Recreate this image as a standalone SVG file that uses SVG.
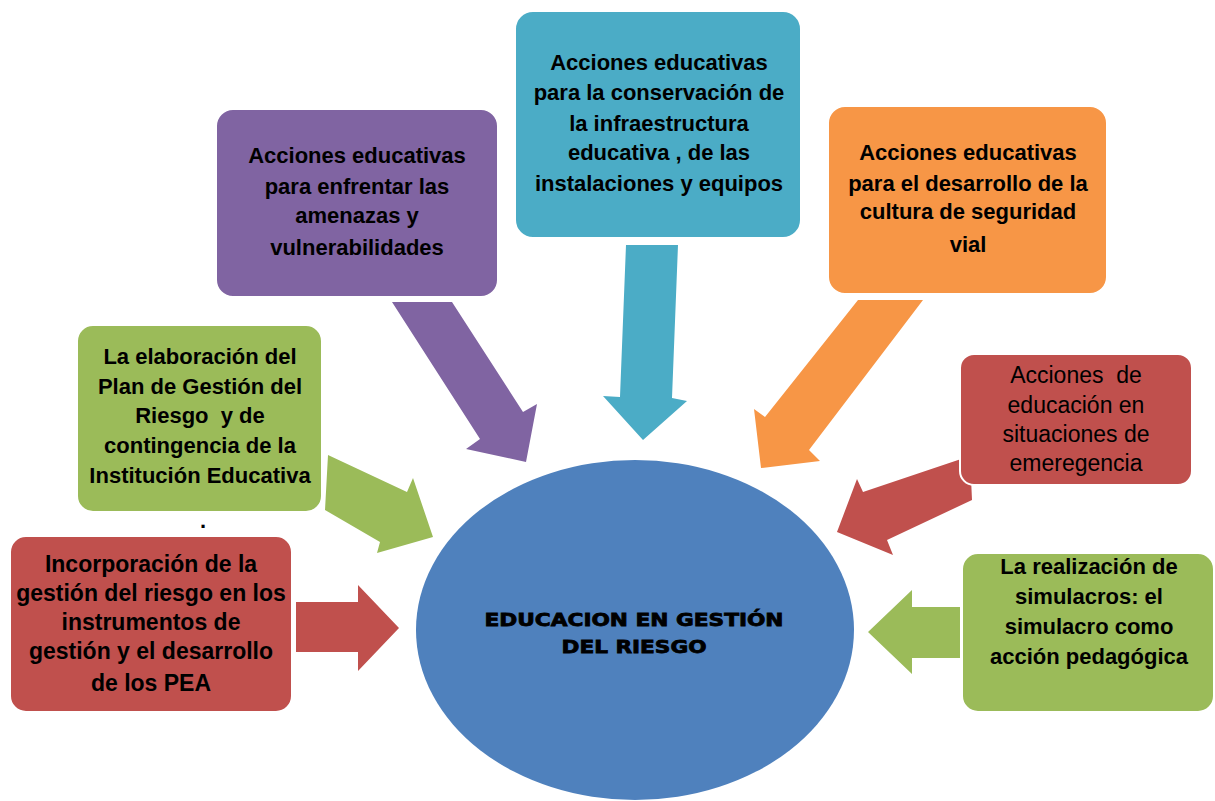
<svg xmlns="http://www.w3.org/2000/svg" width="1215" height="801" viewBox="0 0 1215 801">
<style>
.box{stroke:#ffffff;stroke-width:2}
.t{font-family:"Liberation Sans",Arial,sans-serif;font-weight:bold;font-size:22px;fill:#000;text-anchor:middle}
.t23{font-size:23px}
.r{font-weight:normal}
.c{font-family:"DejaVu Sans","Liberation Sans",sans-serif;font-weight:bold;font-size:18px;fill:#000;stroke:#000;stroke-width:0.8;text-anchor:middle}
.purple{fill:#8064A2}.cyan{fill:#4BACC6}.orange{fill:#F79646}.red{fill:#C0504D}.green{fill:#9BBB59}.blue{fill:#4F81BD}
</style>
<rect width="1215" height="801" fill="#ffffff"/>
<g id="connectors">
<polygon class="purple" points="392,302 452,302 523,412 537,404 526,462 466,449 480,439"/>
<polygon class="cyan" points="626,245 678,245 672,398 687,401 643,440 603,396 620,397"/>
<polygon class="orange" points="858,300 923,300 809,450 820,461 761,468 754,409 765,417"/>
<polygon class="red" points="970,456 972,500 887,540 893,555 837,532 857,479 863,492"/>
<polygon class="green" points="328,455 407,492 413,478 433,537 377,553 380,542 325,510"/>
<polygon class="red" points="296,602 358,602 358,585 399,628 358,671 358,652 296,652"/>
<polygon class="green" points="960,607 912,607 912,590 868,632 912,674 912,658 960,658"/>
</g>
<g id="center">
<ellipse class="blue" cx="635" cy="630" rx="219" ry="170"/>
<text class="c" x="634" y="626" textLength="299" lengthAdjust="spacingAndGlyphs">EDUCACION EN GESTIÓN</text>
<text class="c" x="634" y="653" textLength="145" lengthAdjust="spacingAndGlyphs">DEL RIESGO</text>
</g>
<g id="amenazas">
<rect class="box purple" x="216" y="109" width="282" height="188" rx="17"/>
<text class="t" x="357" y="163">Acciones educativas</text>
<text class="t" x="357" y="194">para enfrentar las</text>
<text class="t" x="357" y="223">amenazas y</text>
<text class="t" x="357" y="255">vulnerabilidades</text>
</g>
<g id="infraestructura">
<rect class="box cyan" x="515" y="11" width="286" height="227" rx="18"/>
<text class="t" x="659" y="70">Acciones educativas</text>
<text class="t" x="659" y="100">para la conservación de</text>
<text class="t" x="659" y="131">la infraestructura</text>
<text class="t" x="659" y="160">educativa , de las</text>
<text class="t" x="659" y="191">instalaciones y equipos</text>
</g>
<g id="seguridad-vial">
<rect class="box orange" x="828" y="106" width="279" height="188" rx="17"/>
<text class="t" x="968" y="160">Acciones educativas</text>
<text class="t" x="968" y="191">para el desarrollo de la</text>
<text class="t" x="968" y="219">cultura de seguridad</text>
<text class="t" x="968" y="252">vial</text>
</g>
<g id="emergencia">
<rect class="box red" x="960" y="354" width="232" height="131" rx="14"/>
<text class="t t23 r" x="1076" y="383" xml:space="preserve">Acciones  de</text>
<text class="t t23 r" x="1076" y="413">educación en</text>
<text class="t t23 r" x="1076" y="442">situaciones de</text>
<text class="t t23 r" x="1076" y="471">emeregencia</text>
</g>
<g id="plan-gestion">
<rect class="box green" x="77" y="325" width="245" height="187" rx="16"/>
<text class="t" x="200" y="364">La elaboración del</text>
<text class="t" x="200" y="394">Plan de Gestión del</text>
<text class="t" x="200" y="423" xml:space="preserve">Riesgo  y de</text>
<text class="t" x="200" y="453">contingencia de la</text>
<text class="t" x="200" y="483">Institución Educativa</text>
<text class="t" x="203" y="528">.</text>
</g>
<g id="incorporacion">
<rect class="box red" x="10" y="536" width="282" height="176" rx="16"/>
<text class="t t23" x="151" y="572">Incorporación de la</text>
<text class="t t23" x="151" y="601">gestión del riesgo en los</text>
<text class="t t23" x="151" y="630">instrumentos de</text>
<text class="t t23" x="151" y="659">gestión y el desarrollo</text>
<text class="t t23" x="151" y="691">de los PEA</text>
</g>
<g id="simulacros">
<rect class="box green" x="962" y="553" width="252" height="159" rx="16"/>
<text class="t" x="1089" y="574">La realización de</text>
<text class="t" x="1089" y="604">simulacros: el</text>
<text class="t" x="1089" y="634">simulacro como</text>
<text class="t" x="1089" y="664">acción pedagógica</text>
</g>
</svg>
